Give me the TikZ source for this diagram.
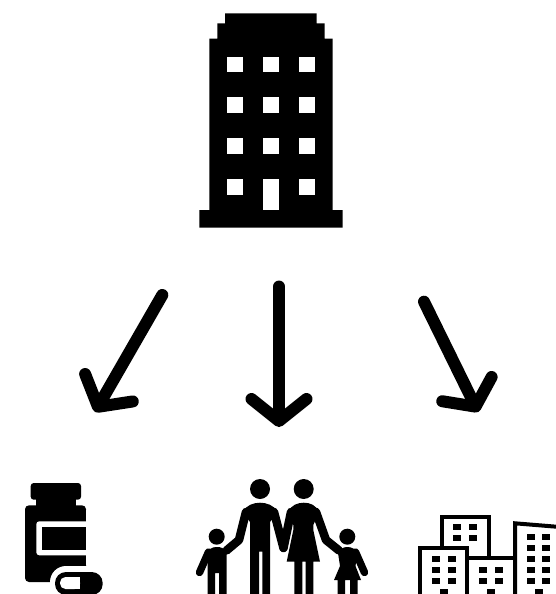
\documentclass[tikz,border=0pt]{standalone}
\usepackage{xcolor}
\usetikzlibrary{arrows.meta}
\tikzset{
  arrow/.style={-{Straight Barb[round, length=#1, width=55pt]}, line width=12pt, line cap=round, black},
  arrow/.default=22pt,
  solid/.style={fill=black, draw=none},
  hole/.style={fill=white, draw=none},
  limb/.style={draw=black, line width=8.5pt, line cap=round, line join=round},
  outline/.style={draw=black, line width=4pt, fill=white},
}
\begin{document}
\begin{tikzpicture}[x=1pt, y=-1pt]
  \clip (0,0) rectangle (556,594);
  \fill[white] (0,0) rectangle (556,594);

  % Tower on top
  \fill[solid] (225,13.3) -- (316.7,13.3) -- (316.7,23.3) -- (324.7,23.3) -- (324.7,38.7)
    -- (332.7,38.7) -- (332.7,210) -- (342.7,210) -- (342.7,227.7) -- (199.3,227.7)
    -- (199.3,210) -- (209.3,210) -- (209.3,38.7) -- (217.3,38.7) -- (217.3,23.3)
    -- (225,23.3) -- cycle;
  \foreach \wx in {227.3,263.3,299.2}
    \foreach \wy in {56.7,97.4,138.4}
      \fill[hole] (\wx,\wy) rectangle ++(15.4,15.4);
  \foreach \wx in {227.3,299.2}
    \fill[hole] (\wx,179.3) rectangle ++(15.4,15.4);
  \fill[hole] (263.3,179.3) rectangle (278.7,210);

  % Arrows
  \coordinate (leftstart) at (162.3,295);
  \coordinate (leftend) at (95,412);
  \coordinate (midstart) at (279,286.5);
  \coordinate (midend) at (279,427);
  \coordinate (rightstart) at (424,301.7);
  \coordinate (rightend) at (478.2,412);
  \draw[arrow] (leftstart) -- (leftend);
  \draw[arrow] (midstart) -- (midend);
  \draw[arrow=19.5pt] (rightstart) -- (rightend);

  % Pill bottle
  \fill[solid, rounded corners=3pt] (30.7,483) rectangle (81,499.7);
  \fill[solid] (36,495) rectangle (75.7,506);
  \fill[solid, rounded corners=4pt] (25,505.3) -- (86,505.3) -- (86,582) -- (25,582) -- cycle;
  \fill[hole, rounded corners=3pt] (36.3,521.3) rectangle (96,555.3);
  \fill[solid] (41.7,527) rectangle (86,550);
  \fill[hole] (86,510) rectangle (100,565);
  \fill[hole, rounded corners=16pt] (50,566) rectangle (110,600);
  \fill[solid, rounded corners=11pt] (55,572) rectangle (102.7,595);
  \fill[hole, rounded corners=5.5pt] (60,577) rectangle (80,589);
  \fill[hole] (72,577) rectangle (80,589);

  % Family
  \foreach \hx/\hy/\hr in {260/489/10, 303.7/489/10, 216.7/536.7/8, 347.3/536.7/8}
    \fill[solid] (\hx,\hy) circle (\hr);
  % father
  \fill[solid] (250,600) -- (250,522) -- (243,512) .. controls (246,505) and (254,502.7) .. (260,502.7)
    .. controls (266,502.7) and (274,505) .. (278,512) -- (270,522) -- (270,600) -- (262.3,600)
    -- (262.3,551.7) -- (259,551.7) -- (259,600) -- cycle;
  \draw[limb] (246,512) -- (239,540) -- (226.5,550.5);
  \draw[limb] (274,512) -- (283.5,548);
  % mother
  \fill[solid] (288,512) .. controls (291,505) and (298,502.7) .. (303.7,502.7)
    .. controls (310,502.7) and (316,505) .. (319,512) -- (313.3,525) -- (313.3,530) -- (320,561.7)
    -- (313.3,561.7) -- (313.3,600) -- (305.7,600) -- (305.7,561.7) -- (302.3,561.7) -- (302.3,600)
    -- (294.3,600) -- (294.3,561.7) -- (286.7,561.7) -- (293.3,530) -- (293.3,525) -- cycle;
  \draw[limb] (291,512) -- (283.5,548);
  \draw[limb] (316,512) -- (326,540) -- (339,550.5);
  % left child
  \fill[solid] (207.7,600) -- (207.7,553) .. controls (209,549) and (212,547) .. (216.7,547)
    .. controls (221,547) and (224,548) .. (226.7,552) -- (226.7,600) -- (219,600) -- (219,573)
    -- (215,573) -- (215,600) -- cycle;
  \draw[limb, line width=7.5pt] (208.5,552) -- (199.5,572.5);
  % right child
  \fill[solid] (337.7,600) -- (337.7,580) -- (334,580) -- (340,566) -- (338,553) .. controls (340,549) and (343,547) .. (347.3,547)
    .. controls (352,547) and (355,549) .. (357.5,553) -- (355.5,566) -- (361,580) -- (357.7,580)
    -- (357.7,600) -- (350,600) -- (350,580) -- (345,580) -- (345,600) -- cycle;
  \draw[limb, line width=7.5pt] (355.5,552) -- (364.5,572.5);

  % City
  \draw[outline] (441.7,560) -- (441.7,516.7) -- (489.3,516.7) -- (489.3,560);
  \draw[outline] (420,600) -- (420,548.3) -- (467.3,548.3) -- (467.3,600);
  \draw[outline] (467.3,558.3) -- (515,558.3);
  \draw[outline] (515,600) -- (515,523.3) -- (560,527);
  \foreach \cx/\cy in {453.3/524, 469.3/524, 453.3/535, 469.3/535,
      432/556, 448/556, 432/567, 448/567, 432/578.3, 448/578.3,
      479/567, 495/567, 479/578.3, 495/578.3,
      526.7/534, 542/534, 526.7/545, 542/545, 526.7/556, 542/556,
      526.7/567, 542/567, 526.7/578.3, 542/578.3}
    \fill[solid] (\cx,\cy) rectangle ++(8,5.5);
  \foreach \dx in {440,487.3,535}
    \fill[solid] (\dx,589) rectangle ++(7.5,6);
\end{tikzpicture}
\end{document}
